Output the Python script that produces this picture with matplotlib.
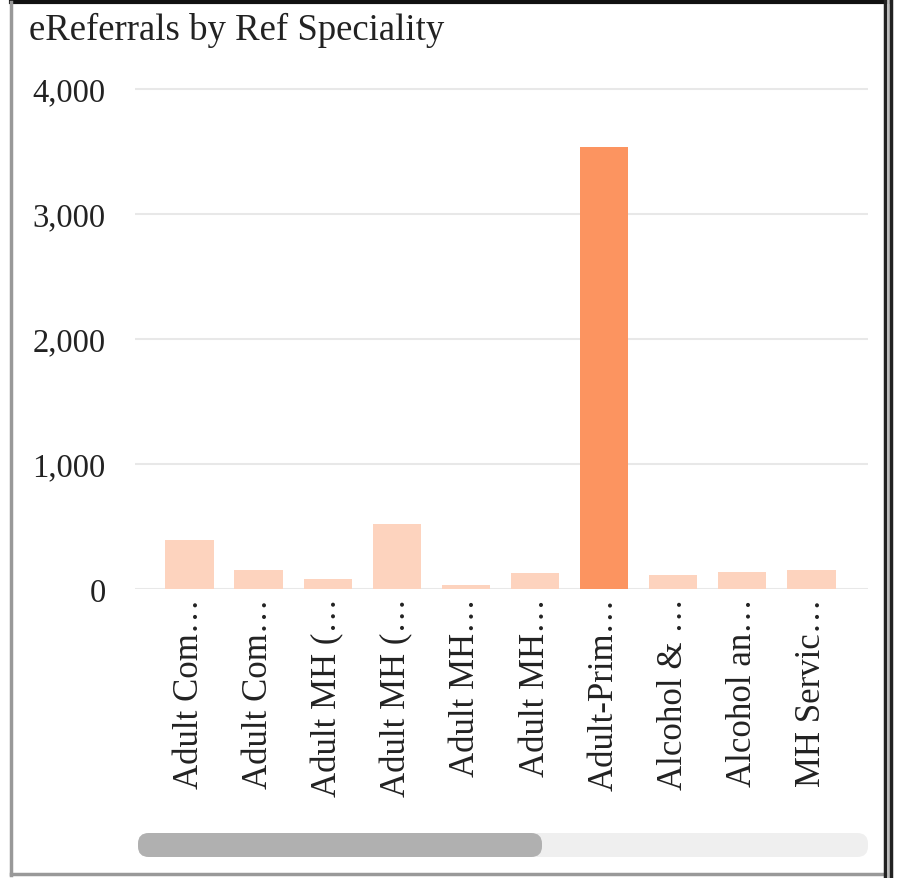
import matplotlib.pyplot as plt
from matplotlib.patches import FancyBboxPatch
from matplotlib.lines import Line2D
from matplotlib.ticker import FuncFormatter

# datos
categorias = ["Adult Com…", "Adult Com…", "Adult MH (…", "Adult MH (…", "Adult MH…",
              "Adult MH…", "Adult-Prim…", "Alcohol & …", "Alcohol an…", "MH Servic…"]
valores = [396, 155, 83, 517, 35, 128, 3534, 112, 137, 149]
destacado = 6

W, H = 901, 879
plt.rcParams['font.family'] = ['Liberation Serif', 'DejaVu Serif']

fig = plt.figure(figsize=(W / 100, H / 100), dpi=100)
fig.patch.set_facecolor('white')

def fx(px):
    return px / W

def fy(py):
    return 1 - py / H

# ejes: x de 135 a 868 px, y=0 en 590 px, 4000 en 90 px
ymax = 4100
top_px = 590 - ymax / 1000 * 125
ax = fig.add_axes([fx(135), fy(590), fx(868) - fx(135), fy(top_px) - fy(590)])

colores = ['#FC9460' if i == destacado else '#FDD3BE' for i in range(len(valores))]
ax.bar(range(len(valores)), valores, width=0.71, color=colores, zorder=2)

ax.set_xlim(-0.797, 9.826)
ax.set_ylim(0, ymax)
ax.set_yticks([0, 1000, 2000, 3000, 4000])
ax.yaxis.set_major_formatter(FuncFormatter(lambda v, p: f"{int(v):,}"))
ax.grid(axis='y', color='#e8e8e8', linewidth=1.5, zorder=0)
ax.set_axisbelow(True)
for s in ax.spines.values():
    s.set_visible(False)
ax.tick_params(axis='y', length=0, pad=21, labelsize=23.5, labelcolor='#222222')
ax.tick_params(axis='x', length=0, pad=6, labelsize=25, labelcolor='#222222')
ax.set_xticks(range(len(categorias)))
ax.set_xticklabels(categorias, rotation=90)

fig.text(fx(29), fy(13), "eReferrals by Ref Speciality", fontsize=26.5,
         color='#222222', ha='left', va='top')

# barra de desplazamiento
pista = FancyBboxPatch((fx(138), fy(858)), fx(868) - fx(138), fy(834) - fy(858),
                       boxstyle="round,pad=0,rounding_size=0.012",
                       transform=fig.transFigure, facecolor='#efefef', edgecolor='none')
pulgar = FancyBboxPatch((fx(138), fy(858)), fx(542) - fx(138), fy(834) - fy(858),
                        boxstyle="round,pad=0,rounding_size=0.012",
                        transform=fig.transFigure, facecolor='#b0b0b0', edgecolor='none')
fig.patches.extend([pista, pulgar])

# bordes del panel
lineas = [
    ((fx(11), fx(888)), (fy(3), fy(3)), '#111111', 3),
    ((fx(11), fx(11)), (fy(3), fy(876)), '#999999', 2.5),
    ((fx(11), fx(886)), (fy(875), fy(875)), '#999999', 2.5),
    ((fx(885), fx(885)), (fy(0), fy(879)), '#222222', 2.5),
    ((fx(888), fx(888)), (fy(0), fy(879)), '#bbbbbb', 2),
    ((fx(891), fx(891)), (fy(0), fy(879)), '#222222', 2.5),
]
for xs, ys, c, lw in lineas:
    fig.add_artist(Line2D(xs, ys, color=c, linewidth=lw, transform=fig.transFigure))

fig.savefig('out.png', dpi=100)
